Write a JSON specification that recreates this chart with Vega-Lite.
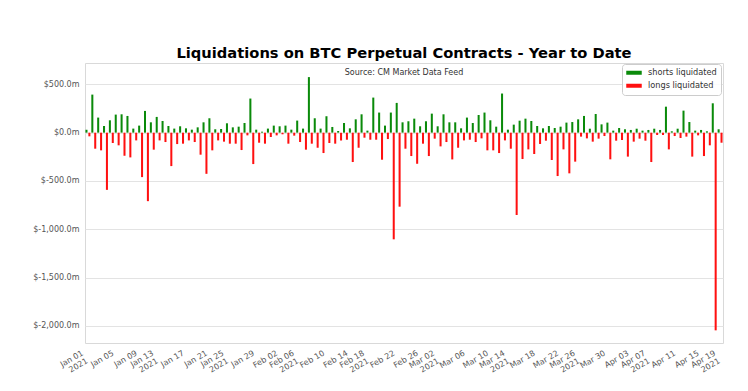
{
"$schema": "https://vega.github.io/schema/vega-lite/v6.json",
"width": 638, "height": 280,
"autosize": {"type": "none"},
"padding": {"left": 85, "top": 63, "right": 25, "bottom": 48},
"background": "white",
"title": {"text": "Liquidations on BTC Perpetual Contracts - Year to Date", "subtitle": "Source: CM Market Data Feed", "fontSize": 14.7, "fontWeight": "bold", "color": "black", "font": "DejaVu Sans", "subtitleFont": "DejaVu Sans", "subtitleFontSize": 8, "subtitleColor": "#333333", "subtitlePadding": 8, "offset": -14, "anchor": "middle"},
"datasets": {"liq": [
{"d":"Jan 01","k":"shorts liquidated","v":30},{"d":"Jan 01","k":"longs liquidated","v":-38},
{"d":"Jan 02","k":"shorts liquidated","v":394},{"d":"Jan 02","k":"longs liquidated","v":-166},
{"d":"Jan 03","k":"shorts liquidated","v":156},{"d":"Jan 03","k":"longs liquidated","v":-183},
{"d":"Jan 04","k":"shorts liquidated","v":69},{"d":"Jan 04","k":"longs liquidated","v":-592},
{"d":"Jan 05","k":"shorts liquidated","v":128},{"d":"Jan 05","k":"longs liquidated","v":-107},
{"d":"Jan 06","k":"shorts liquidated","v":187},{"d":"Jan 06","k":"longs liquidated","v":-131},
{"d":"Jan 07","k":"shorts liquidated","v":190},{"d":"Jan 07","k":"longs liquidated","v":-239},
{"d":"Jan 08","k":"shorts liquidated","v":173},{"d":"Jan 08","k":"longs liquidated","v":-256},
{"d":"Jan 09","k":"shorts liquidated","v":42},{"d":"Jan 09","k":"longs liquidated","v":-80},
{"d":"Jan 10","k":"shorts liquidated","v":73},{"d":"Jan 10","k":"longs liquidated","v":-460},
{"d":"Jan 11","k":"shorts liquidated","v":225},{"d":"Jan 11","k":"longs liquidated","v":-709},
{"d":"Jan 12","k":"shorts liquidated","v":107},{"d":"Jan 12","k":"longs liquidated","v":-176},
{"d":"Jan 13","k":"shorts liquidated","v":163},{"d":"Jan 13","k":"longs liquidated","v":-80},
{"d":"Jan 14","k":"shorts liquidated","v":121},{"d":"Jan 14","k":"longs liquidated","v":-97},
{"d":"Jan 15","k":"shorts liquidated","v":69},{"d":"Jan 15","k":"longs liquidated","v":-346},
{"d":"Jan 16","k":"shorts liquidated","v":42},{"d":"Jan 16","k":"longs liquidated","v":-118},
{"d":"Jan 17","k":"shorts liquidated","v":66},{"d":"Jan 17","k":"longs liquidated","v":-114},
{"d":"Jan 18","k":"shorts liquidated","v":45},{"d":"Jan 18","k":"longs liquidated","v":-80},
{"d":"Jan 19","k":"shorts liquidated","v":31},{"d":"Jan 19","k":"longs liquidated","v":-97},
{"d":"Jan 20","k":"shorts liquidated","v":55},{"d":"Jan 20","k":"longs liquidated","v":-228},
{"d":"Jan 21","k":"shorts liquidated","v":107},{"d":"Jan 21","k":"longs liquidated","v":-426},
{"d":"Jan 22","k":"shorts liquidated","v":149},{"d":"Jan 22","k":"longs liquidated","v":-183},
{"d":"Jan 23","k":"shorts liquidated","v":35},{"d":"Jan 23","k":"longs liquidated","v":-80},
{"d":"Jan 24","k":"shorts liquidated","v":38},{"d":"Jan 24","k":"longs liquidated","v":-93},
{"d":"Jan 25","k":"shorts liquidated","v":97},{"d":"Jan 25","k":"longs liquidated","v":-114},
{"d":"Jan 26","k":"shorts liquidated","v":55},{"d":"Jan 26","k":"longs liquidated","v":-114},
{"d":"Jan 27","k":"shorts liquidated","v":62},{"d":"Jan 27","k":"longs liquidated","v":-180},
{"d":"Jan 28","k":"shorts liquidated","v":100},{"d":"Jan 28","k":"longs liquidated","v":-28},
{"d":"Jan 29","k":"shorts liquidated","v":353},{"d":"Jan 29","k":"longs liquidated","v":-325},
{"d":"Jan 30","k":"shorts liquidated","v":31},{"d":"Jan 30","k":"longs liquidated","v":-104},
{"d":"Jan 31","k":"shorts liquidated","v":10},{"d":"Jan 31","k":"longs liquidated","v":-114},
{"d":"Feb 01","k":"shorts liquidated","v":42},{"d":"Feb 01","k":"longs liquidated","v":-45},
{"d":"Feb 02","k":"shorts liquidated","v":73},{"d":"Feb 02","k":"longs liquidated","v":-28},
{"d":"Feb 03","k":"shorts liquidated","v":66},{"d":"Feb 03","k":"longs liquidated","v":-17},
{"d":"Feb 04","k":"shorts liquidated","v":73},{"d":"Feb 04","k":"longs liquidated","v":-114},
{"d":"Feb 05","k":"shorts liquidated","v":31},{"d":"Feb 05","k":"longs liquidated","v":-31},
{"d":"Feb 06","k":"shorts liquidated","v":125},{"d":"Feb 06","k":"longs liquidated","v":-97},
{"d":"Feb 07","k":"shorts liquidated","v":42},{"d":"Feb 07","k":"longs liquidated","v":-176},
{"d":"Feb 08","k":"shorts liquidated","v":575},{"d":"Feb 08","k":"longs liquidated","v":-114},
{"d":"Feb 09","k":"shorts liquidated","v":149},{"d":"Feb 09","k":"longs liquidated","v":-156},
{"d":"Feb 10","k":"shorts liquidated","v":42},{"d":"Feb 10","k":"longs liquidated","v":-211},
{"d":"Feb 11","k":"shorts liquidated","v":170},{"d":"Feb 11","k":"longs liquidated","v":-107},
{"d":"Feb 12","k":"shorts liquidated","v":59},{"d":"Feb 12","k":"longs liquidated","v":-114},
{"d":"Feb 13","k":"shorts liquidated","v":17},{"d":"Feb 13","k":"longs liquidated","v":-80},
{"d":"Feb 14","k":"shorts liquidated","v":100},{"d":"Feb 14","k":"longs liquidated","v":-73},
{"d":"Feb 15","k":"shorts liquidated","v":45},{"d":"Feb 15","k":"longs liquidated","v":-304},
{"d":"Feb 16","k":"shorts liquidated","v":138},{"d":"Feb 16","k":"longs liquidated","v":-156},
{"d":"Feb 17","k":"shorts liquidated","v":190},{"d":"Feb 17","k":"longs liquidated","v":-52},
{"d":"Feb 18","k":"shorts liquidated","v":21},{"d":"Feb 18","k":"longs liquidated","v":-73},
{"d":"Feb 19","k":"shorts liquidated","v":363},{"d":"Feb 19","k":"longs liquidated","v":-73},
{"d":"Feb 20","k":"shorts liquidated","v":208},{"d":"Feb 20","k":"longs liquidated","v":-280},
{"d":"Feb 21","k":"shorts liquidated","v":73},{"d":"Feb 21","k":"longs liquidated","v":-66},
{"d":"Feb 22","k":"shorts liquidated","v":208},{"d":"Feb 22","k":"longs liquidated","v":-1104},
{"d":"Feb 23","k":"shorts liquidated","v":308},{"d":"Feb 23","k":"longs liquidated","v":-766},
{"d":"Feb 24","k":"shorts liquidated","v":107},{"d":"Feb 24","k":"longs liquidated","v":-166},
{"d":"Feb 25","k":"shorts liquidated","v":118},{"d":"Feb 25","k":"longs liquidated","v":-242},
{"d":"Feb 26","k":"shorts liquidated","v":145},{"d":"Feb 26","k":"longs liquidated","v":-322},
{"d":"Feb 27","k":"shorts liquidated","v":66},{"d":"Feb 27","k":"longs liquidated","v":-114},
{"d":"Feb 28","k":"shorts liquidated","v":118},{"d":"Feb 28","k":"longs liquidated","v":-242},
{"d":"Mar 01","k":"shorts liquidated","v":197},{"d":"Mar 01","k":"longs liquidated","v":-62},
{"d":"Mar 02","k":"shorts liquidated","v":66},{"d":"Mar 02","k":"longs liquidated","v":-142},
{"d":"Mar 03","k":"shorts liquidated","v":190},{"d":"Mar 03","k":"longs liquidated","v":-97},
{"d":"Mar 04","k":"shorts liquidated","v":107},{"d":"Mar 04","k":"longs liquidated","v":-277},
{"d":"Mar 05","k":"shorts liquidated","v":107},{"d":"Mar 05","k":"longs liquidated","v":-156},
{"d":"Mar 06","k":"shorts liquidated","v":45},{"d":"Mar 06","k":"longs liquidated","v":-80},
{"d":"Mar 07","k":"shorts liquidated","v":156},{"d":"Mar 07","k":"longs liquidated","v":-73},
{"d":"Mar 08","k":"shorts liquidated","v":100},{"d":"Mar 08","k":"longs liquidated","v":-97},
{"d":"Mar 09","k":"shorts liquidated","v":183},{"d":"Mar 09","k":"longs liquidated","v":-59},
{"d":"Mar 10","k":"shorts liquidated","v":208},{"d":"Mar 10","k":"longs liquidated","v":-183},
{"d":"Mar 11","k":"shorts liquidated","v":128},{"d":"Mar 11","k":"longs liquidated","v":-183},
{"d":"Mar 12","k":"shorts liquidated","v":62},{"d":"Mar 12","k":"longs liquidated","v":-211},
{"d":"Mar 13","k":"shorts liquidated","v":405},{"d":"Mar 13","k":"longs liquidated","v":-80},
{"d":"Mar 14","k":"shorts liquidated","v":31},{"d":"Mar 14","k":"longs liquidated","v":-166},
{"d":"Mar 15","k":"shorts liquidated","v":83},{"d":"Mar 15","k":"longs liquidated","v":-852},
{"d":"Mar 16","k":"shorts liquidated","v":124},{"d":"Mar 16","k":"longs liquidated","v":-273},
{"d":"Mar 17","k":"shorts liquidated","v":145},{"d":"Mar 17","k":"longs liquidated","v":-173},
{"d":"Mar 18","k":"shorts liquidated","v":121},{"d":"Mar 18","k":"longs liquidated","v":-221},
{"d":"Mar 19","k":"shorts liquidated","v":69},{"d":"Mar 19","k":"longs liquidated","v":-117},
{"d":"Mar 20","k":"shorts liquidated","v":45},{"d":"Mar 20","k":"longs liquidated","v":-83},
{"d":"Mar 21","k":"shorts liquidated","v":69},{"d":"Mar 21","k":"longs liquidated","v":-283},
{"d":"Mar 22","k":"shorts liquidated","v":48},{"d":"Mar 22","k":"longs liquidated","v":-449},
{"d":"Mar 23","k":"shorts liquidated","v":62},{"d":"Mar 23","k":"longs liquidated","v":-173},
{"d":"Mar 24","k":"shorts liquidated","v":104},{"d":"Mar 24","k":"longs liquidated","v":-421},
{"d":"Mar 25","k":"shorts liquidated","v":110},{"d":"Mar 25","k":"longs liquidated","v":-300},
{"d":"Mar 26","k":"shorts liquidated","v":138},{"d":"Mar 26","k":"longs liquidated","v":-41},
{"d":"Mar 27","k":"shorts liquidated","v":173},{"d":"Mar 27","k":"longs liquidated","v":-59},
{"d":"Mar 28","k":"shorts liquidated","v":41},{"d":"Mar 28","k":"longs liquidated","v":-93},
{"d":"Mar 29","k":"shorts liquidated","v":193},{"d":"Mar 29","k":"longs liquidated","v":-62},
{"d":"Mar 30","k":"shorts liquidated","v":86},{"d":"Mar 30","k":"longs liquidated","v":-35},
{"d":"Mar 31","k":"shorts liquidated","v":104},{"d":"Mar 31","k":"longs liquidated","v":-276},
{"d":"Apr 01","k":"shorts liquidated","v":21},{"d":"Apr 01","k":"longs liquidated","v":-83},
{"d":"Apr 02","k":"shorts liquidated","v":48},{"d":"Apr 02","k":"longs liquidated","v":-76},
{"d":"Apr 03","k":"shorts liquidated","v":35},{"d":"Apr 03","k":"longs liquidated","v":-248},
{"d":"Apr 04","k":"shorts liquidated","v":28},{"d":"Apr 04","k":"longs liquidated","v":-93},
{"d":"Apr 05","k":"shorts liquidated","v":41},{"d":"Apr 05","k":"longs liquidated","v":-62},
{"d":"Apr 06","k":"shorts liquidated","v":21},{"d":"Apr 06","k":"longs liquidated","v":-83},
{"d":"Apr 07","k":"shorts liquidated","v":28},{"d":"Apr 07","k":"longs liquidated","v":-304},
{"d":"Apr 08","k":"shorts liquidated","v":41},{"d":"Apr 08","k":"longs liquidated","v":-24},
{"d":"Apr 09","k":"shorts liquidated","v":28},{"d":"Apr 09","k":"longs liquidated","v":-24},
{"d":"Apr 10","k":"shorts liquidated","v":269},{"d":"Apr 10","k":"longs liquidated","v":-173},
{"d":"Apr 11","k":"shorts liquidated","v":14},{"d":"Apr 11","k":"longs liquidated","v":-35},
{"d":"Apr 12","k":"shorts liquidated","v":41},{"d":"Apr 12","k":"longs liquidated","v":-55},
{"d":"Apr 13","k":"shorts liquidated","v":228},{"d":"Apr 13","k":"longs liquidated","v":-41},
{"d":"Apr 14","k":"shorts liquidated","v":110},{"d":"Apr 14","k":"longs liquidated","v":-248},
{"d":"Apr 15","k":"shorts liquidated","v":21},{"d":"Apr 15","k":"longs liquidated","v":-28},
{"d":"Apr 16","k":"shorts liquidated","v":28},{"d":"Apr 16","k":"longs liquidated","v":-242},
{"d":"Apr 17","k":"shorts liquidated","v":14},{"d":"Apr 17","k":"longs liquidated","v":-131},
{"d":"Apr 18","k":"shorts liquidated","v":304},{"d":"Apr 18","k":"longs liquidated","v":-2046},
{"d":"Apr 19","k":"shorts liquidated","v":35},{"d":"Apr 19","k":"longs liquidated","v":-104}
]},
"data": {"name": "liq"},
"mark": {"type": "bar"},
"encoding": {
  "x": {"field": "d", "type": "ordinal", "sort": null, "scale": {"paddingInner": 0, "paddingOuter": 0},
    "axis": {"values": ["Jan 01","Jan 05","Jan 09","Jan 13","Jan 17","Jan 21","Jan 25","Jan 29","Feb 02","Feb 06","Feb 10","Feb 14","Feb 18","Feb 22","Feb 26","Mar 02","Mar 06","Mar 10","Mar 14","Mar 18","Mar 22","Mar 26","Mar 30","Apr 03","Apr 07","Apr 11","Apr 15","Apr 19"],
      "labelExpr": "(datum.value == 'Jan 01' || datum.value == 'Jan 13' || datum.value == 'Jan 25' || datum.value == 'Feb 06' || datum.value == 'Feb 18' || datum.value == 'Mar 02' || datum.value == 'Mar 14' || datum.value == 'Mar 26' || datum.value == 'Apr 07' || datum.value == 'Apr 19') ? [datum.value, '2021'] : datum.value",
      "labelOffset": {"condition": {"test": "datum.value == 'Jan 01' || datum.value == 'Jan 13' || datum.value == 'Jan 25' || datum.value == 'Feb 06' || datum.value == 'Feb 18' || datum.value == 'Mar 02' || datum.value == 'Mar 14' || datum.value == 'Mar 26' || datum.value == 'Apr 07' || datum.value == 'Apr 19'", "value": -7}, "value": 0},
      "labelAngle": -30, "labelAlign": "right", "labelBaseline": "top", "labelPadding": 6, "labelOverlap": false, "labelLineHeight": 9, "grid": false, "title": null}},
  "xOffset": {"field": "k", "type": "nominal", "sort": ["shorts liquidated", "longs liquidated"], "scale": {"paddingInner": 0.3, "paddingOuter": 0.16}},
  "y": {"field": "v", "type": "quantitative", "scale": {"domain": [-2177, 721], "nice": false, "zero": false},
    "axis": {"values": [500, 0, -500, -1000, -1500, -2000], "labelExpr": "datum.value < 0 ? '$-' + format(-datum.value, ',.1f') + 'm' : '$' + format(datum.value, ',.1f') + 'm'", "grid": true, "labelPadding": 6, "title": null}},
  "color": {"field": "k", "type": "nominal", "scale": {"domain": ["shorts liquidated", "longs liquidated"], "range": ["#0a8a0a", "#ff1010"]},
    "legend": {"orient": "none", "legendX": 537, "legendY": 1, "title": null}}
},
"config": {
  "font": "DejaVu Sans",
  "view": {"stroke": "#d9d9d9"},
  "axis": {"domain": false, "ticks": false, "labelFont": "DejaVu Sans", "labelFontSize": 8, "labelColor": "#555555", "gridColor": "#e3e3e3"},
  "legend": {"fillColor": "rgba(255,255,255,0.85)", "strokeColor": "#cccccc", "padding": 4, "cornerRadius": 3, "labelFontSize": 8.2, "labelColor": "#333333", "labelFont": "DejaVu Sans", "labelOffset": 6, "symbolType": "M-1,-0.27H1V0.27H-1Z", "symbolSize": 240, "symbolStrokeWidth": 0, "clipHeight": 9.5, "rowPadding": 2}
}
}
